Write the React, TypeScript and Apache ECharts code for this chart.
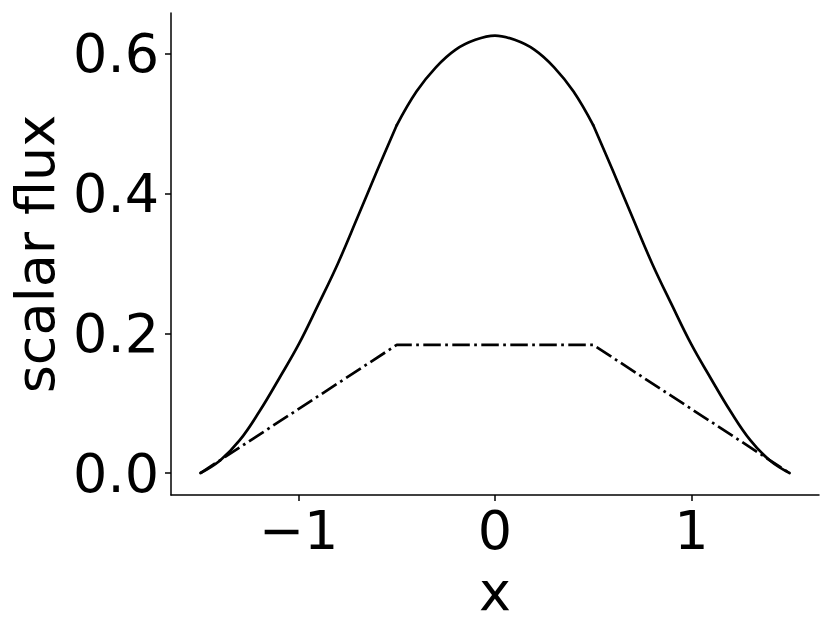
import React, { useEffect, useRef } from "react";
import * as echarts from "echarts";

// x positions of the sampled points
const xValues = [
  -1.5, -1.4, -1.3, -1.2, -1.1, -1.0, -0.9, -0.8, -0.7, -0.6, -0.5,
  -0.4, -0.3, -0.2, -0.1, 0.0, 0.1, 0.2, 0.3, 0.4, 0.5,
  0.6, 0.7, 0.8, 0.9, 1.0, 1.1, 1.2, 1.3, 1.4, 1.5,
];
// solid curve
const solidValues = [
  0.0, 0.018, 0.047, 0.088, 0.135, 0.184, 0.241, 0.3, 0.366, 0.433, 0.498,
  0.546, 0.581, 0.606, 0.62, 0.626, 0.62, 0.606, 0.581, 0.546, 0.498,
  0.433, 0.366, 0.3, 0.241, 0.184, 0.135, 0.088, 0.047, 0.018, 0.0,
];
// dash-dot curve corners
const dashX = [-1.5, -0.5, 0.0, 0.5, 1.5];
const dashValues = [0.0, 0.1835, 0.1835, 0.1835, 0.0];

const xTicks = [-1, 0, 1];
const yTicks = [0, 0.2, 0.4, 0.6];

const FONT = "DejaVu Sans";

// the solid curve has kinks at x = ±0.5: draw its three pieces separately so each stays smooth
const pieces = [
  [0, 10],
  [10, 20],
  [20, 30],
];

export default function App() {
  const ref = useRef<HTMLDivElement>(null);
  useEffect(() => {
    if (!ref.current) return;
    const chart = echarts.init(ref.current, null, { renderer: "svg" });
    const solidSeries = pieces.map(([a, b]) => ({
      type: "line",
      data: xValues.slice(a, b + 1).map((x, i) => [x, solidValues[a + i]]),
      showSymbol: false,
      smooth: 0.4,
      lineStyle: { color: "#000", width: 2.7, cap: "round", join: "round" },
      z: 3,
    }));
    chart.setOption({
      animation: false,
      backgroundColor: "#ffffff",
      grid: {
        left: 171,
        right: 12,
        top: 13,
        bottom: 138,
        containLabel: false,
        outerBoundsMode: "none",
      },
      xAxis: {
        type: "value",
        min: -1.65,
        max: 1.65,
        name: "x",
        nameLocation: "middle",
        nameGap: 69,
        nameTextStyle: { fontFamily: FONT, fontSize: 54, color: "#000" },
        axisLine: { show: true, onZero: false, lineStyle: { color: "#000", width: 1.5 } },
        axisTick: { show: true, length: 6, lineStyle: { color: "#000", width: 1.5 }, customValues: xTicks },
        axisLabel: {
          fontFamily: FONT,
          fontSize: 54,
          color: "#000",
          margin: 8,
          customValues: xTicks,
          formatter: (v: number) => (v < 0 ? "\u2212" + Math.abs(v) : String(v)),
        },
        splitLine: { show: false },
      },
      yAxis: {
        type: "value",
        min: -0.0314,
        max: 0.6584,
        name: "scalar flux",
        nameLocation: "middle",
        nameGap: 109,
        nameTextStyle: { fontFamily: FONT, fontSize: 54, color: "#000" },
        axisLine: { show: true, onZero: false, lineStyle: { color: "#000", width: 1.5 } },
        axisTick: { show: true, length: 6, lineStyle: { color: "#000", width: 1.5 }, customValues: yTicks },
        axisLabel: {
          fontFamily: FONT,
          fontSize: 54,
          color: "#000",
          margin: 12,
          customValues: yTicks,
          formatter: (v: number) => v.toFixed(1),
        },
        splitLine: { show: false },
      },
      series: [
        ...solidSeries,
        {
          type: "line",
          data: dashX.map((x, i) => [x, dashValues[i]]),
          showSymbol: false,
          lineStyle: { color: "#000", width: 2.7, type: [17.5, 4.4, 2.7, 4.4] },
          z: 2,
        },
      ],
    });
    return () => chart.dispose();
  }, []);
  return (
    <div
      ref={ref}
      style={{ position: "fixed", left: 0, top: 0, width: 831, height: 633, background: "#fff" }}
    />
  );
}
